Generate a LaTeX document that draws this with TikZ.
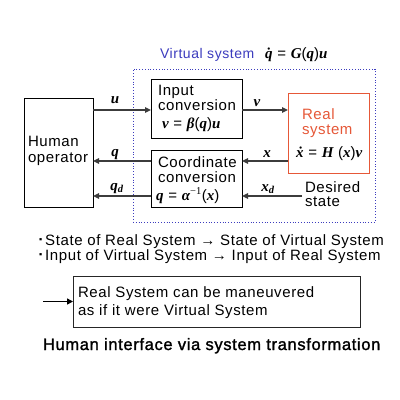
\documentclass[tikz,border=0pt]{standalone}
\usepackage{fontspec}
\setmainfont{Liberation Sans}[LetterSpace=4]
\newfontfamily\titlefont{Liberation Sans}[LetterSpace=4,FakeBold=1.5]
\newfontfamily\mfont{Liberation Serif}
\usetikzlibrary{arrows.meta}
\definecolor{realred}{RGB}{230,88,56}
\definecolor{virtblue}{RGB}{60,60,190}
\definecolor{arrgray}{RGB}{60,60,60}
\newcommand\mb[1]{{\mfont\bfseries\itshape #1}}
\newcommand\mbsub[2]{{\mfont\bfseries\itshape #1\textsubscript{#2}}}
\newcommand\sqbullet{\raisebox{2.5pt}{\fontsize{9}{10}\selectfont ▪}}
\begin{document}
\begin{tikzpicture}[x=1pt,y=-1pt,
  every node/.style={inner sep=0pt,outer sep=0pt},
  box/.style={draw=black,line width=0.9pt,anchor=north west},
  txt/.style={anchor=base west,font=\fontsize{15}{16}\selectfont},
  lbl/.style={anchor=base,font=\fontsize{15}{16}\selectfont},
  arr/.style={draw=arrgray,line width=1.4pt,-{Triangle[length=6pt,width=5.5pt]}}]
\useasboundingbox (0,0) rectangle (400,400);
\fill[white] (0,0) rectangle (400,400);
% virtual system frame
\node[draw=virtblue,dotted,line width=0.8pt,anchor=north west,minimum width=242,minimum height=153] (virt) at (133,69) {};
\node[anchor=base west,text=virtblue,font=\fontsize{14}{16}\selectfont] (virtlbl) at (160,58) {Virtual system};
\node[anchor=base west,font=\fontsize{15}{16}\selectfont] (virteq) at (265,58) {\mb{q̇} = \mb{G}(\mb{q})\mb{u}};
% boxes
\node[box,minimum width=69,minimum height=109] (human) at (24,98) {};
\node[box,minimum width=91,minimum height=59] (inp) at (151,79) {};
\node[box,minimum width=91,minimum height=57] (coord) at (151,150) {};
\node[box,draw=realred,minimum width=81,minimum height=80] (real) at (288,93) {};
% texts
\node[txt] (h1) at (28,146) {Human};
\node[txt] (h2) at (28,162) {operator};
\node[txt] (i1) at (158,95) {Input};
\node[txt] (i2) at (158,110) {conversion};
\node[txt] (i3) at (162,128) {\mb{v} = \mb{β}(\mb{q})\mb{u}};
\node[txt] (c1) at (158,167) {Coordinate};
\node[txt] (c2) at (158,182) {conversion};
\node[txt] (c3) at (156,200) {\mb{q} = \mb{α}\textsuperscript{\mfont −1}(\mb{x})};
\node[txt,text=realred] (r1) at (302,119) {Real};
\node[txt,text=realred] (r2) at (302,134) {system};
\node[txt] (r3) at (296,157) {\mb{ẋ} = \mb{H} (\mb{x})\mb{v}};
\node[txt] (d1) at (305,192) {Desired};
\node[txt] (d2) at (305,206) {state};
\node[anchor=west,minimum height=20] (des) at (302,196) {};
% arrows
\draw[arr] (human.east |- 0,110) -- (inp.west |- 0,110);
\draw[arr] (inp.east |- 0,110) -- (real.west |- 0,110);
\draw[arr] (real.west |- 0,161) -- (coord.east |- 0,161);
\draw[arr] (des.west) -- (coord.east |- des.west);
\draw[arr] (coord.west |- 0,161) -- (human.east |- 0,161);
\draw[arr] (coord.west |- 0,196) -- (human.east |- 0,196);
% labels
\node[lbl] (lu) at (115,103) {\mb{u}};
\node[lbl] (lq) at (115,156) {\mb{q}};
\node[lbl] (lqd) at (117,190) {\mbsub{q}{d}};
\node[lbl] (lv) at (257,106) {\mb{v}};
\node[lbl] (lx) at (267,157) {\mb{x}};
\node[lbl] (lxd) at (268,191) {\mbsub{x}{d}};
% bullets
\node[txt] (b1) at (39,245) {\sqbullet\hspace{3pt}State of Real System → State of Virtual System};
\node[txt] (b2) at (39,260) {\sqbullet\hspace{3pt}Input of Virtual System → Input of Real System};
% bottom box
\node[draw=black!85,line width=0.8pt,anchor=north west,minimum width=287,minimum height=51] (concl) at (73,276) {};
\coordinate (arrstart) at (43,301.5);
\draw[draw=black,line width=1.6pt,-{Triangle[length=6pt,width=6pt]}] (arrstart) -- (concl.west);
\node[txt] (k1) at (78,297) {Real System can be maneuvered};
\node[txt] (k2) at (78,315) {as if it were Virtual System};
\node[anchor=base west,font=\titlefont\fontsize{16.5}{18}\selectfont] (title) at (43,350) {Human interface via system transformation};
\end{tikzpicture}
\end{document}
